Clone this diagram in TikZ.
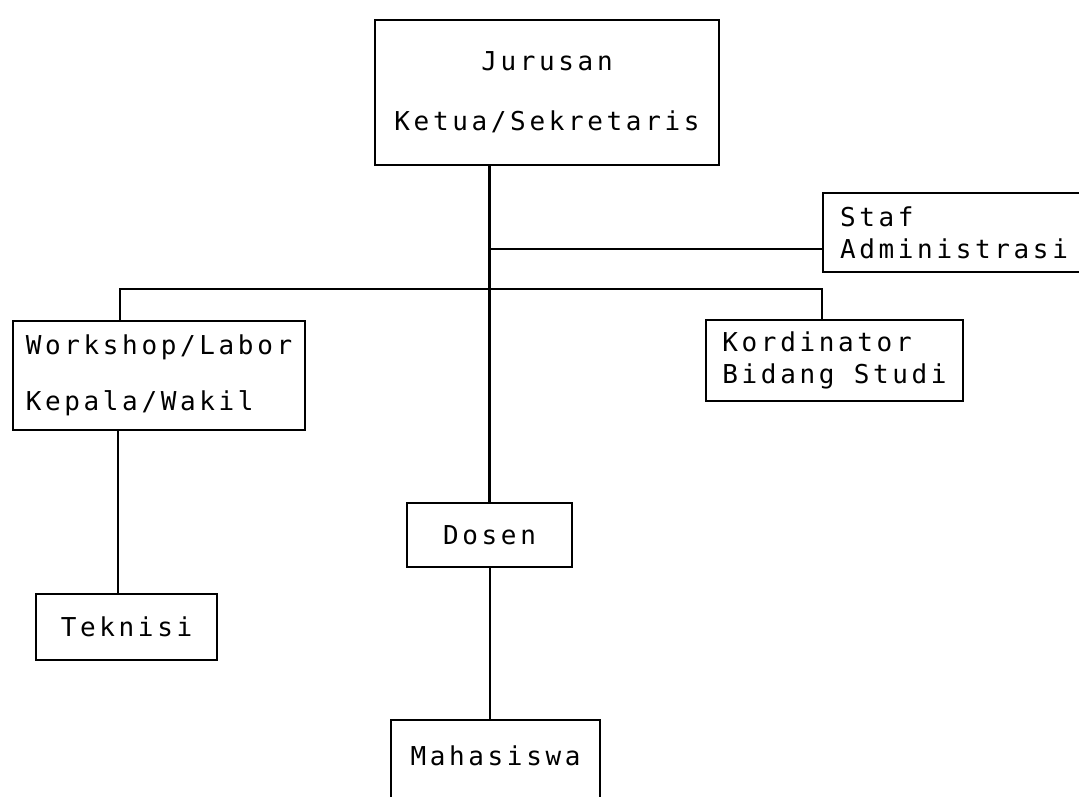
\documentclass[tikz,border=0pt]{standalone}
\usepackage{fontspec}
\newfontfamily\tw{DejaVu Sans Mono}[LetterSpace=14]
\begin{document}
\begin{tikzpicture}[x=1pt,y=-1pt,
  boxstyle/.style={draw, line width=2.5pt, rectangle, inner sep=0pt, align=center,
    font=\tw\fontsize{26}{32}\selectfont},
  linkstyle/.style={line width=2.5pt}]
\useasboundingbox (0,0) rectangle (1079,796);
\fill[white] (0,0) rectangle (1079,796);
% boxes
\node[boxstyle, minimum width=344pt, minimum height=145pt] (jur) at (547,92.5) {Jurusan\\[28pt]Ketua/Sekretaris};
\node[boxstyle, minimum width=262pt, minimum height=79pt, align=left] (staf) at (954,232.5) {Staf\\Administrasi};
\node[boxstyle, minimum width=292pt, minimum height=109pt, align=left] (work) at (159,375.5) {Workshop/Labor\\[24pt]Kepala/Wakil};
\node[boxstyle, minimum width=257pt, minimum height=81pt, align=left] (kord) at (834.5,360.5) {Kordinator\\Bidang Studi};
\node[boxstyle, minimum width=165pt, minimum height=64pt] (dos) at (489.5,535) {Dosen};
\node[boxstyle, minimum width=181pt, minimum height=66pt] (tek) at (126.5,627) {Teknisi};
\node[boxstyle, minimum width=209pt, minimum height=96pt] (mah) at (495.5,768) {\raisebox{12pt}[\height][\depth]{Mahasiswa}};
% connector points
\coordinate (sj) at (489.5,249);
\coordinate (busL) at (120,289);
\coordinate (busR) at (822,289);
\coordinate (wt) at (118,430);
\coordinate (dm) at (490,567);
% connectors
\draw[linkstyle] (dos.north |- jur.south) -- (dos.north);
\draw[linkstyle] (sj) -- (sj -| staf.west);
\draw[linkstyle] (busL |- work.north) -- (busL) -- (busR) -- (busR |- kord.north);
\draw[linkstyle] (wt |- work.south) -- (wt |- tek.north);
\draw[linkstyle] (dm |- dos.south) -- (dm |- mah.north);
\end{tikzpicture}
\end{document}
